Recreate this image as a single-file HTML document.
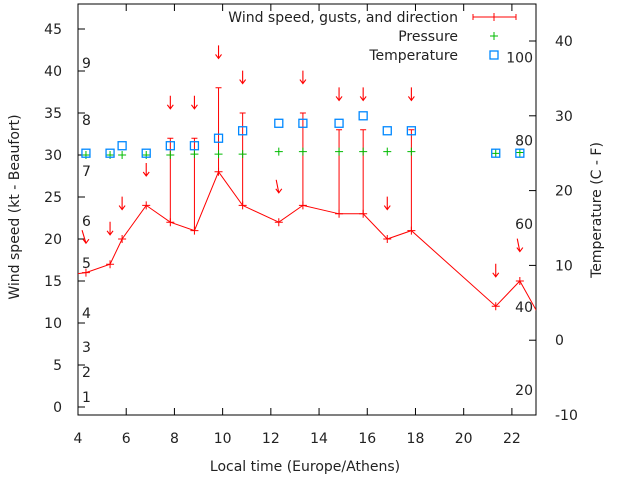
<!DOCTYPE html>
<html><head><meta charset="utf-8"><style>
body{margin:0;background:#fff}
svg text{font-family:"DejaVu Sans","Liberation Sans",sans-serif;font-size:14px;fill:#222}
</style></head><body>
<svg id="c" width="640" height="480"></svg>
<script>
const times=[4.33,5.33,5.83,6.83,7.83,8.83,9.83,10.83,12.33,13.33,14.83,15.83,16.83,17.83,21.33,22.33];
const speeds=[16,17,20,24,22,21,28,24,22,24,23,23,20,21,12,15];
const gusts=[null,null,null,null,32,32,38,35,null,35,33,33,null,33,null,null];
const arrowTilt=[0.3,0,0,0,0,0,0,0,0.2,0,0,0,0,0,0,0.2];
const pressure=[30,30,30,30,30,30.1,30.1,30.1,30.4,30.4,30.4,30.4,30.4,30.4,30.2,30.3];
const tempC=[25,25,26,25,26,26,27,28,29,29,29,30,28,28,25,25];
const lineStartT=[3.0],lineStartV=[15.5],lineEndT=[23.5],lineEndV=[9];
const xTicks=[4,6,8,10,12,14,16,18,20,22];
const yTicks=[0,5,10,15,20,25,30,35,40,45];
const tTicks=[-10,0,10,20,30,40];
const fLabels=[20,40,60,80,100];
const bft=[[1,397],[2,372],[3,347],[4,313],[5,263],[6,221],[7,171],[8,120],[9,63]];
const L=78,R=536,T=4,B=415;
const X=t=>L+(t-4)*(R-L)/19;
const Y=v=>407-8.4*v;
const YT=c=>415-7.48*(c+10);
const svg=document.getElementById('c');
const NS='http://www.w3.org/2000/svg';
function el(tag,at,parent){const e=document.createElementNS(NS,tag);for(const k in at)e.setAttribute(k,at[k]);(parent||svg).appendChild(e);return e;}
const clip=el('clipPath',{id:'pc'});el('rect',{x:L,y:T,width:R-L,height:B-T},clip);
let e=el('rect',{x:L,y:T,width:R-L,height:B-T,fill:'none',stroke:'#000','stroke-width':1});

xTicks.forEach(t=>{const x=X(t);el('line',{x1:x,y1:B,x2:x,y2:B-7,stroke:'#000'});el('line',{x1:x,y1:T,x2:x,y2:T+7,stroke:'#000'});
 const tx=el('text',{x:x,y:B+28,'text-anchor':'middle'});tx.textContent=t;});
yTicks.forEach(v=>{const y=Y(v);el('line',{x1:L,y1:y,x2:L+7,y2:y,stroke:'#000'});
 const tx=el('text',{x:62,y:y+5,'text-anchor':'end'});tx.textContent=v;});
tTicks.forEach(c=>{const y=YT(c);el('line',{x1:R,y1:y,x2:R-7,y2:y,stroke:'#000'});
 const tx=el('text',{x:555,y:y+5});tx.textContent=c;});
fLabels.forEach(f=>{const y=YT((f-32)*5/9);const tx=el('text',{x:533,y:y+5,'text-anchor':'end'});tx.textContent=f;});
bft.forEach(([b,y])=>{const tx=el('text',{x:82,y:y+5});tx.textContent=b;});
const g=el('g',{'clip-path':'url(#pc)'});
const pts=[[lineStartT[0],lineStartV[0]]].concat(times.map((t,i)=>[t,speeds[i]])).concat([[lineEndT[0],lineEndV[0]]]);
e=el('polyline',{points:pts.map(p=>X(p[0])+','+Y(p[1])).join(' '),fill:'none',stroke:'#f00'},g);

times.forEach((t,i)=>{const x=X(t),y=Y(speeds[i]);
 let m=el('path',{d:`M${x-4},${y}h8M${x},${y-4}v8`,stroke:'#f00'},g);
 
 const top=gusts[i]!=null?gusts[i]:speeds[i];
 if(gusts[i]!=null){const gy=Y(gusts[i]);m=el('path',{d:`M${x},${y}V${gy}M${x-3},${gy}h6`,stroke:'#f00'},g);
  }
 const ab=Y(top+3.5),dx=arrowTilt[i]*13;
 m=el('path',{d:`M${x-dx},${ab-13}L${x},${ab}M${x-3},${ab-4}L${x},${ab}L${x+3},${ab-4}`,stroke:'#f00',fill:'none','stroke-width':1.1},g);
 
 const py=Y(pressure[i]);m=el('path',{d:`M${x-4},${py}h8M${x},${py-4}v8`,stroke:'#0b0'},g);
 
 const ty=YT(tempC[i]);m=el('rect',{x:x-4,y:ty-4,width:8,height:8,fill:'none',stroke:'#08f','stroke-width':1.3},g);
 
});
const leg=[['Wind speed, gusts, and direction',17],['Pressure',36],['Temperature',55]];
leg.forEach(([s,y],i)=>{const tx=el('text',{x:458,y:y+5,'text-anchor':'end'});tx.textContent=s;});
el('path',{d:'M473,17h43M473,14v6M516,14v6M494,13v8',stroke:'#f00'});
el('path',{d:'M490,36h8M494,32v8',stroke:'#0b0'});
el('rect',{x:490,y:51,width:8,height:8,fill:'none',stroke:'#08f','stroke-width':1.3});
let t=el('text',{x:305,y:471,'text-anchor':'middle'});t.textContent='Local time (Europe/Athens)';
t=el('text',{x:19,y:207,'text-anchor':'middle',transform:'rotate(-90 19 207)'});t.textContent='Wind speed (kt - Beaufort)';
t=el('text',{x:601,y:210,'text-anchor':'middle',transform:'rotate(-90 601 210)'});t.textContent='Temperature (C - F)';
</script>
</body></html>
